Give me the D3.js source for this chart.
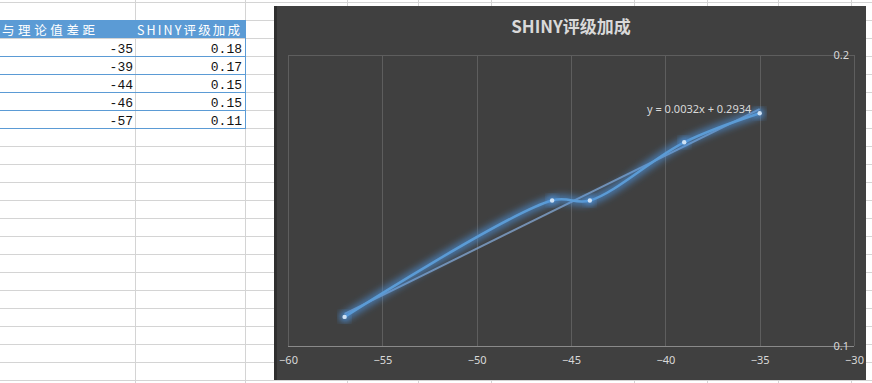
<!DOCTYPE html>
<html>
<head>
<meta charset="utf-8">
<script src="https://cdn.jsdelivr.net/npm/d3@7"></script>
<style>
  body { margin: 0; background: #fff; }
  svg { display: block; }
</style>
</head>
<body>
<div id="chartPlaceholder"></div>
<script>
// table / series data
const gapValues = [-35, -39, -44, -46, -57];
const bonusValues = [0.18, 0.17, 0.15, 0.15, 0.11];
const headers = ['与理论值差距', 'SHINY评级加成'];
const chartTitle = 'SHINY评级加成';
const xTicks = [-60, -55, -50, -45, -40, -35, -30];
const yTicks = [0.1, 0.2];

const W = 872, H = 383;
const rowH = 18, rowTop = 2;
const colA = 135, colB = 245;
const chartBox = {left: 274, top: 6, right: 866, bottom: 380};
const plot = {left: 288, top: 55, right: 854, bottom: 346};

const svg = d3.select('#chartPlaceholder')
              .append('svg')
              .attr('width', W)
              .attr('height', H);

// ---- spreadsheet behind ----
const sheet = svg.append('g');
const rowLines = d3.range(rowTop, H, rowH);
sheet.selectAll('.row').data(rowLines).join('line')
     .attr('x1', 0).attr('x2', W)
     .attr('y1', d => d + 0.5).attr('y2', d => d + 0.5)
     .attr('stroke', '#d4d4d4');
const colLines = [colA, colB, 347, 418, 491, 634, 707, 778, 851];
sheet.selectAll('.col').data(colLines).join('line')
     .attr('x1', d => d + 0.5).attr('x2', d => d + 0.5)
     .attr('y1', 0).attr('y2', H)
     .attr('stroke', '#d4d4d4');

// header row
const headY = rowTop + rowH;
sheet.append('rect').attr('x', 0).attr('y', headY).attr('width', colB).attr('height', rowH)
     .attr('fill', '#5b9bd5');
sheet.append('text').attr('x', 2).attr('y', headY + 14.5)
     .attr('textLength', 93).attr('lengthAdjust', 'spacing')
     .style('font', '12.5px "Noto Sans CJK SC"').attr('fill', '#fff')
     .text(headers[0]);
sheet.append('text').attr('x', 137).attr('y', headY + 14.5)
     .attr('textLength', 103).attr('lengthAdjust', 'spacing')
     .style('font', '12.5px "Noto Sans CJK SC"').attr('fill', '#fff')
     .text(headers[1]);

// data rows
const rows = gapValues.map((g, i) => ({gap: g, bonus: bonusValues[i], y: headY + rowH * (i + 1)}));
sheet.selectAll('.rowborder').data(rows).join('line')
     .attr('x1', 0).attr('x2', colB)
     .attr('y1', d => d.y + rowH + 0.5).attr('y2', d => d.y + rowH + 0.5)
     .attr('stroke', '#5b9bd5');
sheet.append('line')
     .attr('x1', colB + 0.5).attr('x2', colB + 0.5)
     .attr('y1', headY).attr('y2', headY + rowH * (rows.length + 1) + 1)
     .attr('stroke', '#5b9bd5');
sheet.selectAll('.gap').data(rows).join('text')
     .attr('x', colA - 2).attr('y', d => d.y + rowH - 3)
     .attr('text-anchor', 'end')
     .style('font', '13px "Liberation Mono"').attr('fill', '#111')
     .text(d => d.gap);
sheet.selectAll('.bonus').data(rows).join('text')
     .attr('x', colB - 3).attr('y', d => d.y + rowH - 3)
     .attr('text-anchor', 'end')
     .style('font', '13px "Liberation Mono"').attr('fill', '#111')
     .text(d => d.bonus.toFixed(2));

// ---- chart ----
const defs = svg.append('defs');
const glow = defs.append('filter').attr('id', 'glow')
                 .attr('x', '-20%').attr('y', '-20%').attr('width', '140%').attr('height', '140%');
glow.append('feGaussianBlur').attr('stdDeviation', 3.5);

svg.append('rect')
   .attr('x', chartBox.left).attr('y', chartBox.top)
   .attr('width', chartBox.right - chartBox.left).attr('height', chartBox.bottom - chartBox.top)
   .attr('fill', '#404040');
svg.append('rect')
   .attr('x', chartBox.left).attr('y', chartBox.top)
   .attr('width', 3).attr('height', chartBox.bottom - chartBox.top)
   .attr('fill', '#2f2f2f');

svg.append('text')
   .attr('x', 571).attr('y', 33)
   .attr('text-anchor', 'middle')
   .style('font', 'bold 17px "Noto Sans CJK SC"')
   .attr('fill', '#d9d9d9')
   .text(chartTitle);

const x = d3.scaleLinear().domain([-60, -30]).range([plot.left, plot.right]);
const y = d3.scaleLinear().domain([0.1, 0.2]).range([plot.bottom, plot.top]);

// vertical gridlines
svg.append('g').selectAll('line').data(xTicks).join('line')
   .attr('x1', d => Math.round(x(d)) + 0.5).attr('x2', d => Math.round(x(d)) + 0.5)
   .attr('y1', plot.top).attr('y2', plot.bottom)
   .attr('stroke', '#5e5e5e');
// horizontal gridlines
svg.append('g').selectAll('line').data(yTicks).join('line')
   .attr('x1', plot.left).attr('x2', plot.right)
   .attr('y1', d => Math.round(y(d)) + 0.5).attr('y2', d => Math.round(y(d)) + 0.5)
   .attr('stroke', d => d === 0.1 ? '#8a8a8a' : '#5e5e5e');

// x axis labels
const xAxis = svg.append('g')
   .attr('transform', `translate(0, ${plot.bottom})`)
   .call(d3.axisBottom(x).tickValues(xTicks).tickSize(0).tickPadding(10).tickFormat(d3.format('d')));
xAxis.select('.domain').remove();
xAxis.selectAll('text').attr('fill', '#d9d9d9')
     .style('font', '11px "Noto Sans"');

// y axis labels sit inside on the right
const yAxis = svg.append('g')
   .attr('transform', `translate(${plot.right - 5}, 0)`)
   .call(d3.axisLeft(y).tickValues(yTicks).tickSize(0).tickPadding(0).tickFormat(d3.format('.1f')));
yAxis.select('.domain').remove();
yAxis.selectAll('text').attr('fill', '#d9d9d9')
     .style('font', '11px "Noto Sans"');

// series
const points = gapValues.map((g, i) => ({x: g, y: bonusValues[i]}))
                        .sort((a, b) => a.x - b.x);
const line = d3.line()
               .x(d => x(d.x))
               .y(d => y(d.y))
               .curve(d3.curveCatmullRom.alpha(0.5));

// linear trend (least squares)
const mx = d3.mean(points, d => d.x), my = d3.mean(points, d => d.y);
const slope = d3.sum(points, d => (d.x - mx) * (d.y - my)) / d3.sum(points, d => (d.x - mx) ** 2);
const intercept = my - slope * mx;
const xExt = d3.extent(points, d => d.x);
const trend = xExt.map(v => ({x: v, y: slope * v + intercept}));

svg.append('path').datum(trend)
   .attr('d', d3.line().x(d => x(d.x)).y(d => y(d.y)))
   .attr('fill', 'none').attr('stroke', '#7f9fc6').attr('stroke-opacity', 0.85)
   .attr('stroke-width', 2);

svg.append('path').datum(points)
   .attr('d', line)
   .attr('fill', 'none').attr('stroke', '#4d94e0').attr('stroke-opacity', 0.7)
   .attr('stroke-width', 8).attr('filter', 'url(#glow)');
svg.append('path').datum(points)
   .attr('d', line)
   .attr('fill', 'none').attr('stroke', '#5b9bd5')
   .attr('stroke-width', 2.5);

svg.append('g').selectAll('circle').data(points).join('circle')
   .attr('cx', d => x(d.x)).attr('cy', d => y(d.y)).attr('r', 5)
   .attr('fill', '#4d94e0').attr('opacity', 0.8).attr('filter', 'url(#glow)');
svg.append('g').selectAll('circle').data(points).join('circle')
   .attr('cx', d => x(d.x)).attr('cy', d => y(d.y)).attr('r', 2.2)
   .attr('fill', '#cfe2f5');

svg.append('text')
   .attr('x', 647).attr('y', 113)
   .style('font', '11px "Noto Sans"')
   .attr('fill', '#d9d9d9')
   .text(`y = ${slope.toFixed(4)}x + ${intercept.toFixed(4)}`);
</script>
</body>
</html>
